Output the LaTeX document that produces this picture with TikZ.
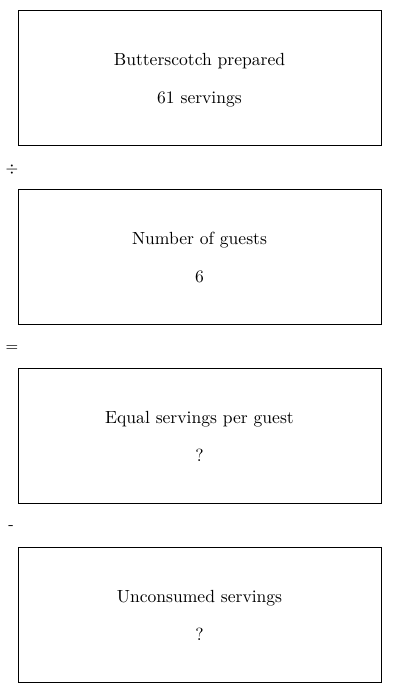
\documentclass[tikz,border=0pt]{standalone}
\usepackage{amsmath,amssymb}
\usepackage{tikz}
\usepackage{xcolor}
\usetikzlibrary{positioning}

\begin{document}
\begin{tikzpicture}[x=0.02cm, y=-0.02cm,
    qbox/.style={draw, line width=0.45pt, minimum width=7.26cm, minimum height=2.7cm},
    qtext/.style={anchor=base, font=\normalsize, inner sep=0pt},
    opsign/.style={font=\small, inner sep=0pt}]
  \useasboundingbox (0,0) rectangle (400,693);
  % ---- boxes ----
  \node[qbox] (prepared) at (199.5,77.5) {};
  \node[qtext] (preparedname) at (199.5,65) {Butterscotch prepared};
  \node[qtext] (preparedval) at (199.5,103.5) {61 servings};
  \node[qbox] (guests) at (199.5,256.5) {};
  \node[qtext] (guestsname) at (199.5,244) {Number of guests};
  \node[qtext] (guestsval) at (199.5,282.5) {6};
  \node[qbox] (perguest) at (199.5,435.5) {};
  \node[qtext] (perguestname) at (199.5,423) {Equal servings per guest};
  \node[qtext] (perguestval) at (199.5,461.5) {?};
  \node[qbox] (leftover) at (199.5,614.5) {};
  \node[qtext] (leftovername) at (199.5,602) {Unconsumed servings};
  \node[qtext] (leftoverval) at (199.5,640.5) {?};
  % ---- operators ----
  \node[opsign] (divide) at (12,170) {$\div$};
  \node[opsign] (equals) at (12,349) {=};
  \node[opsign] (minus) at (11,528) {-};
\end{tikzpicture}
\end{document}
